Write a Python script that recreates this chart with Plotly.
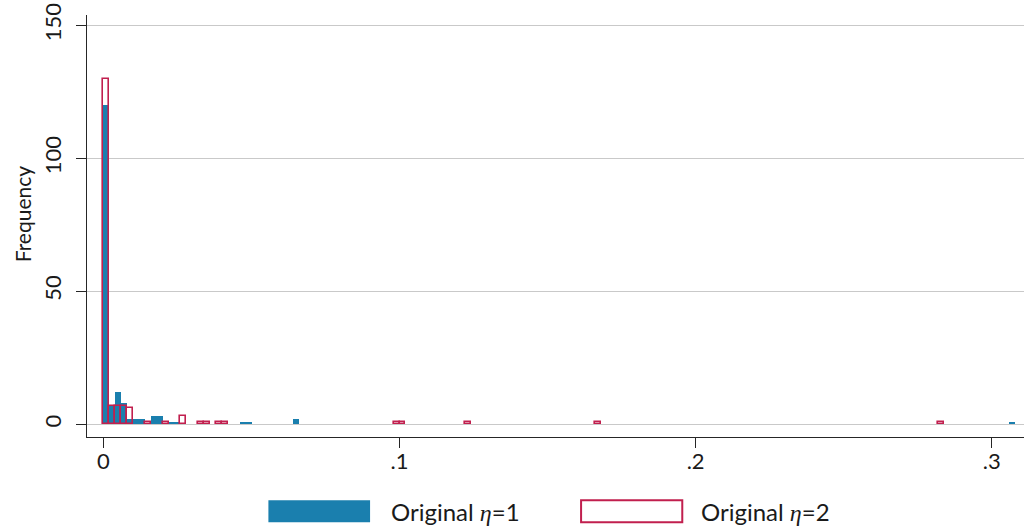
import plotly.graph_objects as go

# ---------------- data ----------------
BIN_WIDTH = 0.002

blue_bin_starts = [0.000, 0.002, 0.004, 0.006, 0.008, 0.010, 0.012,
                   0.016, 0.018, 0.022, 0.024, 0.046, 0.048, 0.064, 0.306]
blue_counts = [120, 7, 12, 8, 2, 2, 2, 3, 3, 1, 1, 1, 1, 2, 1]

red_bin_starts = [0.000, 0.002, 0.004, 0.006, 0.008, 0.014, 0.020, 0.026,
                  0.032, 0.034, 0.038, 0.040, 0.098, 0.100, 0.122, 0.166, 0.282]
red_counts = [130, 7, 7, 7, 6, 1, 1, 3, 1, 1, 1, 1, 1, 1, 1, 1, 1]

x_tick_vals = [0, 0.1, 0.2, 0.3]
x_tick_text = ["0", ".1", ".2", ".3"]
y_tick_vals = [0, 50, 100, 150]
y_tick_text = ["0", "50", "100", "150"]

ETA = "<span style=\"font-family:'Liberation Serif'\"><i>η</i></span>"
series_names = ["Original " + ETA + "=1", "Original " + ETA + "=2"]

# ---------------- style ----------------
BLUE = "#1a7fae"
RED = "#c11f4e"
AXIS = "#262626"
GRID = "#c9c9c9"
FONT = "Lato"

fig = go.Figure()
fig.add_trace(go.Bar(
    x=blue_bin_starts, y=blue_counts, width=BIN_WIDTH, offset=0,
    marker=dict(color=BLUE, line=dict(width=0)),
    name="Original η=1", showlegend=False,
))
fig.add_trace(go.Bar(
    x=red_bin_starts, y=red_counts, width=BIN_WIDTH, offset=0,
    marker=dict(color="rgba(0,0,0,0)", line=dict(color=RED, width=1.6)),
    name="Original η=2", showlegend=False,
))

fig.update_layout(
    width=1025, height=528,
    margin=dict(l=87, r=1, t=15, b=91),
    paper_bgcolor="white", plot_bgcolor="white",
    barmode="overlay", bargap=0,
    font=dict(family=FONT, size=22, color="#1a1a1a"),
    xaxis=dict(
        range=[-0.00557, 0.3109],
        tickvals=x_tick_vals, ticktext=x_tick_text,
        showgrid=False, zeroline=False,
        showline=True, linecolor=AXIS, linewidth=1.3,
        ticks="outside", ticklen=10, tickwidth=1.3, tickcolor=AXIS,
        tickfont=dict(size=22),
        ticklabelstandoff=-6,
    ),
    yaxis=dict(
        range=[-4.77, 153.9],
        tickvals=y_tick_vals, ticktext=y_tick_text,
        showgrid=True, gridcolor=GRID, gridwidth=1.2, zeroline=False,
        showline=True, linecolor=AXIS, linewidth=1.3,
        ticks="outside", ticklen=10, tickwidth=1.3, tickcolor=AXIS,
        tickangle=-90, tickfont=dict(size=22),
        ticklabelstandoff=6,
    ),
)

# y-axis title
fig.add_annotation(
    text="Frequency", textangle=-90, xref="paper", yref="paper",
    x=-0.0694, y=0.53, xanchor="center", yanchor="middle",
    showarrow=False, font=dict(size=21),
)

# manual legend (bottom)
legend_y0, legend_y1 = -0.150, -0.202
fig.add_shape(type="rect", xref="paper", yref="paper",
              x0=0.1936, x1=0.3021, y0=legend_y0, y1=legend_y1,
              fillcolor=BLUE, line=dict(width=0))
fig.add_shape(type="rect", xref="paper", yref="paper",
              x0=0.5273, x1=0.6353, y0=legend_y0, y1=legend_y1,
              fillcolor="white", line=dict(color=RED, width=2))
for xpos, label in zip([0.3219, 0.6535], series_names):
    fig.add_annotation(
        text=label, xref="paper", yref="paper",
        x=xpos, y=(legend_y0 + legend_y1) / 2,
        xanchor="left", yanchor="middle", showarrow=False,
        font=dict(size=24),
    )

fig.write_html(
    "out.html",
    config={"displayModeBar": False},
    post_script="document.body.style.margin='0';document.body.style.overflow='hidden';",
)
